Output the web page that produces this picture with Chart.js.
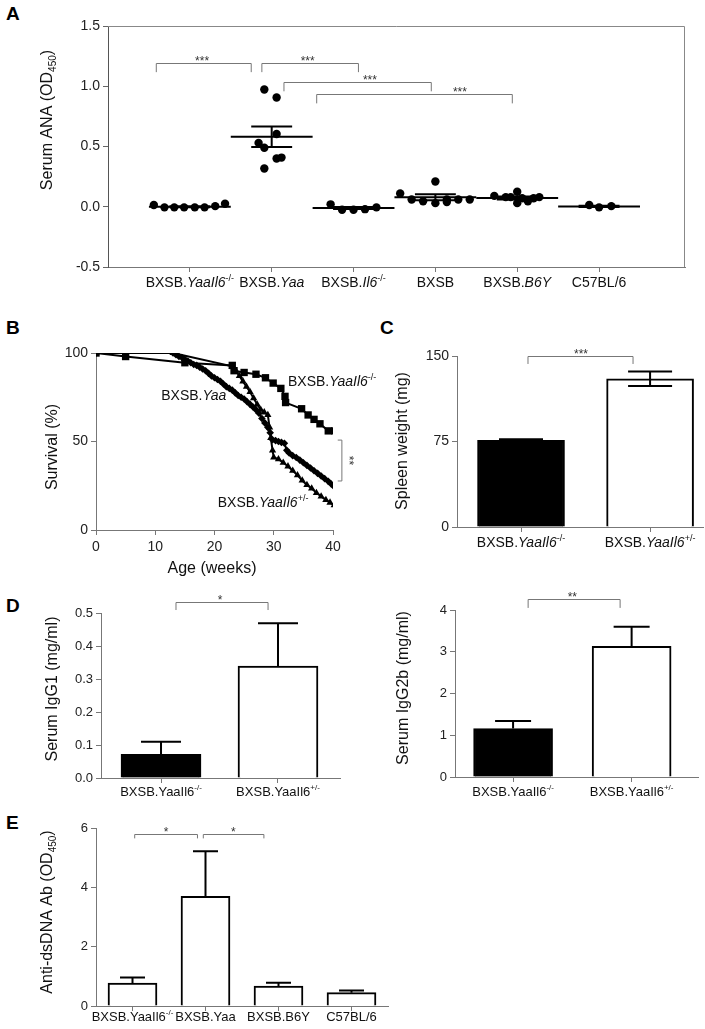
<!DOCTYPE html>
<html>
<head>
<meta charset="utf-8">
<script src="https://cdn.jsdelivr.net/npm/chart.js@4.4.0/dist/chart.umd.min.js"></script>
<style>
  body { margin: 0; background: #fff; width: 705px; height: 1029px; position: relative; overflow: hidden;
         font-family: "Liberation Sans", Arial, sans-serif; }
  canvas { position: absolute; }
  .tag { position: absolute; font-weight: bold; font-size: 19px; line-height: 1; color: #000; }
</style>
</head>
<body>
<div class="tag" style="left:6px;top:4px">A</div>
<div class="tag" style="left:6px;top:318px">B</div>
<div class="tag" style="left:380px;top:318px">C</div>
<div class="tag" style="left:6px;top:596px">D</div>
<div class="tag" style="left:6px;top:813px">E</div>

<canvas id="chartA"></canvas>
<canvas id="chartB"></canvas>
<canvas id="chartC"></canvas>
<canvas id="chartD1"></canvas>
<canvas id="chartD2"></canvas>
<canvas id="chartE"></canvas>

<script>
// ---------------- DATOS ----------------

// A: ANA serico por grupo (cada punto = un raton)
const groupsA = ['BXSB.*YaaIl6*^{-/-}', 'BXSB.*Yaa*', 'BXSB.*Il6*^{-/-}', 'BXSB', 'BXSB.*B6Y*', 'C57BL/6'];
const anaYaaIl6 = [0.015, -0.005, -0.005, -0.005, -0.005, -0.005, 0.005, 0.025];
const anaYaa    = [0.973, 0.907, 0.604, 0.53, 0.49, 0.40, 0.408, 0.317];
const anaIl6    = [0.02, -0.025, -0.025, -0.02, -0.005];
const anaBXSB   = [0.11, 0.06, 0.045, 0.21, 0.03, 0.06, 0.04, 0.06, 0.06];
const anaB6Y    = [0.09, 0.08, 0.08, 0.125, 0.03, 0.07, 0.045, 0.07, 0.08];
const anaC57    = [0.015, -0.005, 0.005];
// separacion horizontal de los puntos dentro de cada columna
const spreadA = [
  [-0.44, -0.31, -0.19, -0.07, 0.06, 0.18, 0.31, 0.43],
  [-0.09, 0.06, 0.06, -0.16, -0.09, 0.06, 0.12, -0.09],
  [-0.28, -0.14, 0, 0.14, 0.28],
  [-0.43, -0.29, -0.15, 0, 0, 0.14, 0.14, 0.28, 0.42],
  [-0.28, -0.14, -0.08, 0, 0, 0.06, 0.13, 0.2, 0.27],
  [-0.12, 0, 0.15]
];
const meanA = [0.0, 0.58, -0.01, 0.078, 0.073, 0.003];
const semA  = [0.004, 0.085, 0.008, 0.025, 0.012, 0.006];
// [desde, hasta, alto, pata, posicion estrellas]
const bracketsA = [
  [0.59, 1.75, 1.19, 1.117, 1.15],
  [1.88, 3.06, 1.19, 1.117, 2.44],
  [2.15, 3.95, 1.033, 0.958, 3.2],
  [2.55, 4.94, 0.933, 0.858, 4.3]
];
const starsA = ['***', '***', '***', '***'];

// B: supervivencia (semanas, %)
const weeksKO  = [0, 5, 15, 23, 23.3, 25, 27, 28.6, 29.9, 31.2, 31.9, 32, 34.7, 35.8, 36.8, 37.8, 39.2, 40.3];
const survKO   = [100, 98, 94.5, 93, 90, 89, 88, 86, 83, 80, 75.5, 72, 68.5, 65, 62.5, 60, 56, 56];
const weeksYaa = [0, 13, 13.5, 14, 14.5, 15, 15.5, 16, 16.5, 17, 17.5, 18, 18.5, 19, 19.5, 20, 20.5, 21, 21.5, 22,
                  22.5, 23, 23.5, 24, 24.5, 25, 25.5, 26, 26.5, 27, 27.5, 28, 28.5, 29, 29.4, 29.8, 30.3, 30.8, 31.3,
                  31.8, 32.2, 32.6, 33.2, 33.8, 34.4, 35, 35.6, 36.2, 36.8, 37.4, 38, 38.6, 39.2, 39.7, 40.2];
const survYaa  = [100, 100, 99, 98, 97.5, 96.5, 95.5, 94.5, 93.5, 93, 92, 91, 90, 88.5, 87, 86, 85, 84, 82.5, 81,
                  80, 79, 77.5, 76, 75, 74, 72.5, 71, 69.5, 68, 66, 63, 60.5, 58, 55, 51, 50.5, 50, 49.5,
                  49, 45, 43.5, 42, 41, 39.5, 38, 36.5, 35, 33.5, 32, 30.5, 29, 27.5, 26, 24.5];
const weeksHet = [0, 13, 23, 23.6, 24.2, 24.8, 25.4, 26, 26.6, 27.2, 27.8, 28.4, 29, 29.3, 29.5, 29.8, 30, 30.8,
                  31.6, 32.4, 33.2, 34, 34.8, 35.6, 36.4, 37.2, 38, 38.8, 39.5, 40.2];
const survHet  = [100, 100, 92.5, 90, 87, 84, 81, 78, 74.5, 71, 68, 66.5, 65, 58, 52, 45, 41, 40,
                  38, 36, 33.5, 31, 28, 25.5, 23.5, 21, 19, 17, 15.5, 14];

// C: peso del bazo
const groupsC = ['BXSB.*YaaIl6*^{-/-}', 'BXSB.*YaaIl6*^{+/-}'];
const spleen = [76, 130];
const spleenErr = [1, 6.3];

// D: IgG1 / IgG2b sericas
const groupsD = ['BXSB.YaaIl6^{-/-}', 'BXSB.YaaIl6^{+/-}'];
const igg1 = [0.072, 0.339];
const igg1Err = [0.038, 0.13];
const igg2b = [1.16, 3.13];
const igg2bErr = [0.18, 0.47];

// E: anticuerpos anti-dsDNA
const groupsE = ['BXSB.YaaIl6^{-/-}', 'BXSB.Yaa', 'BXSB.B6Y', 'C57BL/6'];
const dsdna = [0.77, 3.70, 0.67, 0.45];
const dsdnaErr = [0.19, 1.52, 0.11, 0.07];

// ---------------- UTILIDADES ----------------
const FONT = '"Liberation Sans", Arial, sans-serif';
Chart.defaults.font.family = FONT;
Chart.defaults.color = '#222';

// texto con *cursiva*, ^{super} y _{sub}
function parseRich(s) {
  const segs = [];
  let it = false, buf = '', i = 0;
  const flush = () => { if (buf) segs.push({ t: buf, it, mode: '' }); buf = ''; };
  while (i < s.length) {
    const c = s[i];
    if (c === '*') { flush(); it = !it; i++; }
    else if ((c === '^' || c === '_') && s[i + 1] === '{') {
      flush();
      const j = s.indexOf('}', i);
      segs.push({ t: s.slice(i + 2, j), it, mode: c });
      i = j + 1;
    } else { buf += c; i++; }
  }
  flush();
  return segs;
}

function drawRich(ctx, s, x, y, size, align) {
  const segs = parseRich(s);
  const fontOf = sg => (sg.it ? 'italic ' : '') + (sg.mode ? Math.round(size * 0.65) : size) + 'px ' + FONT;
  let w = 0;
  segs.forEach(sg => { ctx.font = fontOf(sg); sg.w = ctx.measureText(sg.t).width; w += sg.w; });
  let cx = align === 'center' ? x - w / 2 : align === 'right' ? x - w : x;
  ctx.textAlign = 'left';
  ctx.textBaseline = 'middle';
  segs.forEach(sg => {
    ctx.font = fontOf(sg);
    const dy = sg.mode === '^' ? -size * 0.35 : sg.mode === '_' ? size * 0.3 : 0;
    ctx.fillText(sg.t, cx, y + dy);
    cx += sg.w;
  });
}

function drawStars(ctx, t, x, y, rot) {
  ctx.save();
  ctx.translate(x, y);
  if (rot) ctx.rotate(Math.PI / 2);
  ctx.font = '12px ' + FONT;
  ctx.fillStyle = '#333';
  ctx.textAlign = 'center';
  ctx.textBaseline = 'alphabetic';
  ctx.fillText(t, 0, 7);
  ctx.restore();
}

// plugin para todo lo que Chart.js no dibuja solo
const extras = {
  id: 'extras',
  afterDraw(chart, args, o) {
    const ctx = chart.ctx, xs = chart.scales.x, ys = chart.scales.y, a = chart.chartArea;
    const [ox, oy] = o.origin;
    ctx.save();
    ctx.fillStyle = '#111';

    if (o.frame) {
      ctx.strokeStyle = '#888'; ctx.lineWidth = 1;
      ctx.beginPath();
      ctx.moveTo(a.left, a.top + 0.5); ctx.lineTo(a.right - 0.5, a.top + 0.5); ctx.lineTo(a.right - 0.5, a.bottom);
      ctx.stroke();
    }

    if (o.means) {
      ctx.strokeStyle = '#000'; ctx.lineWidth = 2;
      o.means.vals.forEach((m, i) => {
        const c = i + 1, s = o.means.sems[i];
        const ym = ys.getPixelForValue(m), yu = ys.getPixelForValue(m + s), yd = ys.getPixelForValue(m - s);
        ctx.beginPath();
        ctx.moveTo(xs.getPixelForValue(c - 0.5), ym); ctx.lineTo(xs.getPixelForValue(c + 0.5), ym);
        ctx.moveTo(xs.getPixelForValue(c - 0.25), yu); ctx.lineTo(xs.getPixelForValue(c + 0.25), yu);
        ctx.moveTo(xs.getPixelForValue(c - 0.25), yd); ctx.lineTo(xs.getPixelForValue(c + 0.25), yd);
        ctx.moveTo(xs.getPixelForValue(c), yu); ctx.lineTo(xs.getPixelForValue(c), yd);
        ctx.stroke();
      });
    }

    if (o.errs) {
      ctx.strokeStyle = '#000'; ctx.lineWidth = 2;
      o.errs.vals.forEach((v, i) => {
        const px = xs.getPixelForValue(i + 1), e = o.errs.sizes[i];
        const yt = ys.getPixelForValue(v + e), yb = ys.getPixelForValue(o.errs.both ? v - e : v);
        ctx.beginPath();
        ctx.moveTo(px, yt); ctx.lineTo(px, yb);
        ctx.moveTo(px - o.errs.cap, yt); ctx.lineTo(px + o.errs.cap, yt);
        if (o.errs.both) { ctx.moveTo(px - o.errs.cap, yb); ctx.lineTo(px + o.errs.cap, yb); }
        ctx.stroke();
      });
    }

    (o.brackets || []).forEach((b, i) => {
      const [x1, x2, top, leg, sx] = b;
      const p1 = xs.getPixelForValue(x1), p2 = xs.getPixelForValue(x2);
      const pt = Math.round(ys.getPixelForValue(top)) + 0.5, pl = ys.getPixelForValue(leg);
      ctx.strokeStyle = '#777'; ctx.lineWidth = 1;
      ctx.beginPath();
      ctx.moveTo(p1, pl); ctx.lineTo(p1, pt); ctx.lineTo(p2, pt); ctx.lineTo(p2, pl);
      ctx.stroke();
      drawStars(ctx, o.stars[i], xs.getPixelForValue(sx), pt - 6, false);
    });

    if (o.vbracket) {
      const v = o.vbracket;
      const px = xs.getPixelForValue(v.x), pt = xs.getPixelForValue(v.tick);
      const y1 = ys.getPixelForValue(v.y1), y2 = ys.getPixelForValue(v.y2);
      ctx.strokeStyle = '#777'; ctx.lineWidth = 1;
      ctx.beginPath();
      ctx.moveTo(pt, y1); ctx.lineTo(px, y1); ctx.lineTo(px, y2); ctx.lineTo(pt, y2);
      ctx.stroke();
      drawStars(ctx, v.stars, xs.getPixelForValue(v.sx), (y1 + y2) / 2, true);
    }

    ctx.fillStyle = '#111';
    if (o.xlabels) {
      o.xlabels.forEach((t, i) => drawRich(ctx, t, xs.getPixelForValue(i + 1), a.bottom + o.xlabelDy, o.xlabelSize, 'center'));
    }
    (o.texts || []).forEach(t => drawRich(ctx, t.t, xs.getPixelForValue(t.x), ys.getPixelForValue(t.y), t.size, t.align));
    (o.titles || []).forEach(t => {
      ctx.save();
      ctx.translate(t.x - ox, t.y - oy);
      if (t.rot) ctx.rotate(-Math.PI / 2);
      drawRich(ctx, t.t, 0, 0, t.size, 'center');
      ctx.restore();
    });
    ctx.restore();
  }
};

function axis(min, max, step, extra) {
  return Object.assign({
    type: 'linear', min, max, offset: false,
    grid: { drawOnChartArea: false, drawTicks: true, tickLength: 5, color: '#777', offset: false },
    border: { display: true, color: '#777', width: 1 },
    ticks: { stepSize: step, color: '#222', font: { size: 13 }, padding: 3 }
  }, extra || {});
}

function catAxis(min, max, n) {
  return axis(min, max, 1, {
    afterBuildTicks: s => { s.ticks = Array.from({ length: n }, (_, i) => ({ value: i + 1 })); },
    ticks: { display: false }
  });
}

// pos = [left, top, ancho, alto, ancho eje y, alto eje x, margen sup, margen der]
function makeChart(id, pos, cfg, ex) {
  const [left, top, w, h, yW, xH, padTop, padRight] = pos;
  const c = document.getElementById(id);
  c.style.left = left + 'px';
  c.style.top = top + 'px';
  c.width = w;
  c.height = h;
  const o = cfg.options;
  o.responsive = false;
  o.animation = false;
  o.layout = { padding: { top: padTop, right: padRight, left: 0, bottom: 0 } };
  o.scales.x.afterFit = s => { s.height = xH; };
  o.scales.y.afterFit = s => { s.width = yW; };
  ex.origin = [left, top];
  o.plugins = { legend: { display: false }, tooltip: { enabled: false }, extras: ex };
  cfg.plugins = [extras];
  return new Chart(c, cfg);
}

// ---------------- PANEL A ----------------
const anaAll = [anaYaaIl6, anaYaa, anaIl6, anaBXSB, anaB6Y, anaC57];
makeChart('chartA', [0, 0, 705, 300, 108, 33, 26, 20], {
  type: 'scatter',
  data: {
    datasets: anaAll.map((vals, g) => ({
      data: vals.map((v, i) => ({ x: g + 1 + spreadA[g][i], y: v })),
      pointRadius: 4.2, pointBackgroundColor: '#000', pointBorderColor: '#000', pointBorderWidth: 0
    }))
  },
  options: {
    scales: {
      x: catAxis(0, 7.05, groupsA.length),
      y: axis(-0.5, 1.5, 0.5, {
        grid: { drawOnChartArea: false, drawTicks: true, tickLength: 5, color: '#666' },
        border: { display: true, color: '#555', width: 1 },
        ticks: { stepSize: 0.5, color: '#222', font: { size: 14 }, padding: 3, callback: v => v.toFixed(1) }
      })
    }
  }
}, {
  frame: true,
  means: { vals: meanA, sems: semA },
  brackets: bracketsA, stars: starsA,
  xlabels: groupsA, xlabelDy: 16, xlabelSize: 14,
  titles: [{ t: 'Serum ANA (OD_{450})', x: 48, y: 120, size: 16, rot: true }]
});

// ---------------- PANEL B ----------------
const toPts = (xs, ys) => xs.map((x, i) => ({ x, y: ys[i] }));
const lineSet = (pts, style, r) => ({
  data: pts, showLine: true, borderColor: '#000', borderWidth: 2,
  pointStyle: style, pointRadius: r, pointBackgroundColor: '#000', pointBorderColor: '#000', pointBorderWidth: 0
});
makeChart('chartB', [0, 300, 380, 290, 96, 60, 53, 47], {
  type: 'scatter',
  data: {
    datasets: [
      lineSet(toPts(weeksHet, survHet), 'triangle', 4.2),
      lineSet(toPts(weeksYaa, survYaa), 'rectRot', 3.8),
      lineSet(toPts(weeksKO, survKO), 'rect', 5.2)
    ]
  },
  options: {
    scales: {
      x: axis(0, 40, 10, { ticks: { stepSize: 10, color: '#222', font: { size: 14 }, padding: 4 } }),
      y: axis(0, 100, 50, { ticks: { stepSize: 50, color: '#222', font: { size: 14 }, padding: 3 } })
    }
  }
}, {
  texts: [
    { t: 'BXSB.*YaaIl6*^{-/-}', x: 32.4, y: 83.6, size: 14, align: 'left' },
    { t: 'BXSB.*Yaa*', x: 16.5, y: 75.7, size: 14, align: 'center' },
    { t: 'BXSB.*YaaIl6*^{+/-}', x: 28.2, y: 15.2, size: 14, align: 'center' }
  ],
  vbracket: { x: 41.5, tick: 40.8, y1: 50.8, y2: 27.7, sx: 43.2, stars: '**' },
  titles: [
    { t: 'Survival (%)', x: 53, y: 447, size: 16, rot: true },
    { t: 'Age (weeks)', x: 212, y: 569, size: 16, rot: false }
  ]
});

// ---------------- PANEL C ----------------
const barSet = (vals, fills, thick) => ({
  data: vals.map((v, i) => ({ x: i + 1, y: v })),
  backgroundColor: fills, borderColor: '#000', borderWidth: 2, barThickness: thick
});
makeChart('chartC', [360, 300, 345, 260, 97, 33, 56, 2], {
  type: 'bar',
  data: { datasets: [barSet(spleen, ['#000', '#fff'], 87)] },
  options: {
    scales: {
      x: catAxis(0.504, 2.41, groupsC.length),
      y: axis(0, 150, 75, { ticks: { stepSize: 75, color: '#222', font: { size: 14 }, padding: 3 } })
    }
  }
}, {
  errs: { vals: spleen, sizes: spleenErr, cap: 22, both: true },
  brackets: [[1.054, 1.868, 150, 143, 1.465]], stars: ['***'],
  xlabels: groupsC, xlabelDy: 16, xlabelSize: 14,
  titles: [{ t: 'Spleen weight (mg)', x: 403, y: 441, size: 16, rot: true }]
});

// ---------------- PANEL D ----------------
makeChart('chartD1', [0, 570, 360, 240, 101, 32, 43, 20], {
  type: 'bar',
  data: { datasets: [barSet(igg1, ['#000', '#fff'], 80)] },
  options: {
    scales: {
      x: catAxis(0.487, 2.53, groupsD.length),
      y: axis(0, 0.5, 0.1, { ticks: { stepSize: 0.1, color: '#222', font: { size: 13 }, padding: 3, callback: v => v.toFixed(1) } })
    }
  }
}, {
  errs: { vals: igg1, sizes: igg1Err, cap: 20, both: false },
  brackets: [[1.128, 1.915, 0.534, 0.509, 1.504]], stars: ['*'],
  xlabels: groupsD, xlabelDy: 14, xlabelSize: 13,
  titles: [{ t: 'Serum IgG1 (mg/ml)', x: 53, y: 689, size: 16, rot: true }]
});

makeChart('chartD2', [360, 570, 345, 240, 95, 33, 40, 7], {
  type: 'bar',
  data: { datasets: [barSet(igg2b, ['#000', '#fff'], 79)] },
  options: {
    scales: {
      x: catAxis(0.51, 2.56, groupsD.length),
      y: axis(0, 4, 1, { ticks: { stepSize: 1, color: '#222', font: { size: 13 }, padding: 3 } })
    }
  }
}, {
  errs: { vals: igg2b, sizes: igg2bErr, cap: 18, both: false },
  brackets: [[1.127, 1.903, 4.26, 4.05, 1.5]], stars: ['**'],
  xlabels: groupsD, xlabelDy: 15, xlabelSize: 13,
  titles: [{ t: 'Serum IgG2b (mg/ml)', x: 404, y: 688, size: 16, rot: true }]
});

// ---------------- PANEL E ----------------
makeChart('chartE', [0, 810, 400, 219, 96, 23, 18, 12], {
  type: 'bar',
  data: { datasets: [barSet(dsdna, ['#fff', '#fff', '#fff', '#fff'], 49)] },
  options: {
    scales: {
      x: catAxis(0.5, 4.5, groupsE.length),
      y: axis(0, 6, 2, { ticks: { stepSize: 2, color: '#222', font: { size: 13 }, padding: 3 } })
    }
  }
}, {
  errs: { vals: dsdna, sizes: dsdnaErr, cap: 12.5, both: false },
  brackets: [[1.03, 1.89, 5.79, 5.65, 1.46], [1.97, 2.8, 5.79, 5.65, 2.38]], stars: ['*', '*'],
  xlabels: groupsE, xlabelDy: 11, xlabelSize: 13,
  titles: [{ t: 'Anti-dsDNA Ab (OD_{450})', x: 48, y: 912, size: 16, rot: true }]
});
</script>
</body>
</html>
